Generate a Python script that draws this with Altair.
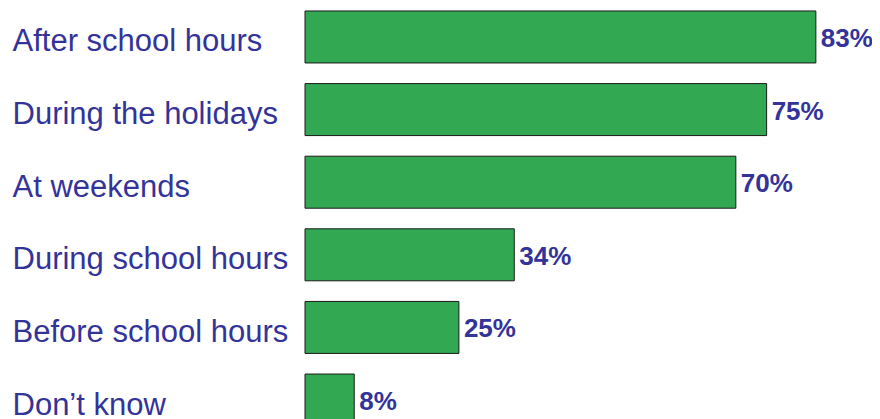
import altair as alt
import pandas as pd

categories = ["After school hours", "During the holidays", "At weekends",
              "During school hours", "Before school hours", "Don\u2019t know"]
values = [83, 75, 70, 34, 25, 8]

df = pd.DataFrame({"cat": categories, "val": values})
df["label"] = df["val"].astype(str) + "%"

blue = "#333399"
green = "#33A852"

y = alt.Y("cat:N", sort=categories, title=None,
          scale=alt.Scale(range=[0, 421], paddingInner=0.284, paddingOuter=0.041),
          axis=alt.Axis(domain=False, ticks=False, labelAlign="left", labelPadding=293,
                        labelFontSize=31, labelColor=blue, labelFont="Liberation Sans",
                        labelBaseline="alphabetic", labelOffset=14.5, labelLimit=0))
x = alt.X("val:Q", scale=alt.Scale(domain=[0, 92.12], nice=False, zero=True), axis=None)

bars = alt.Chart(df).mark_bar(color=green, stroke="#1a1a1a", strokeWidth=1).encode(x=x, y=y)
texts = alt.Chart(df).mark_text(align="left", baseline="alphabetic", dx=5, dy=10,
                                fontSize=26, fontWeight="bold", color=blue,
                                font="Liberation Sans").encode(
    x=x, y=alt.Y("cat:N", sort=categories), text="label:N")

chart = (bars + texts).properties(
    width=567, height=411,
    autosize=alt.AutoSizeParams(type="none"),
    padding={"left": 297, "top": 0, "right": 0, "bottom": 0},
).configure_view(stroke=None)

chart.save("out.html", embed_options={"renderer": "svg", "actions": False})
